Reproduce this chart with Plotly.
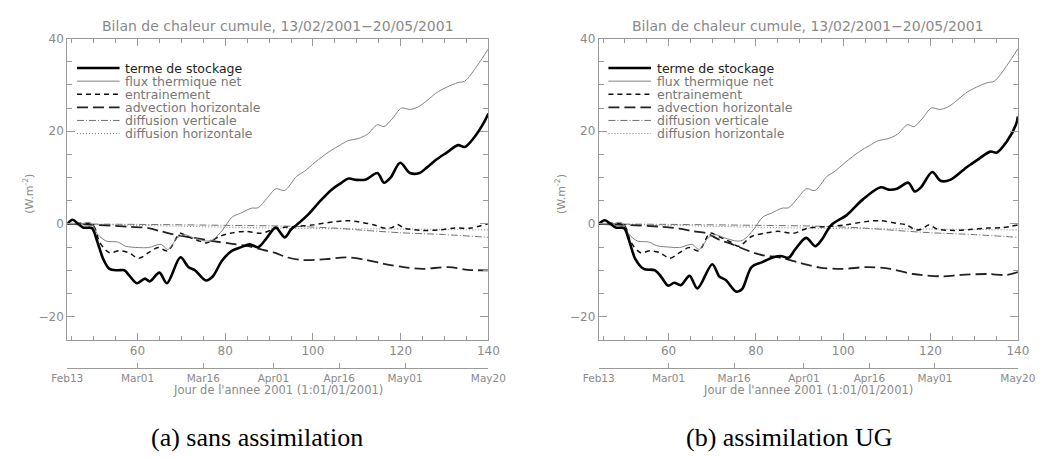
import plotly.graph_objects as go

# ---------------- data ----------------
# Panel (a) sans assimilation
stock_a_day = [44, 45.2, 46.5, 47.7, 49.6, 50.7, 52.2, 53.6, 55.5, 57, 58.1, 59.9, 61.7, 62.8, 65, 66.7,
               69.8, 71.6, 73.1, 75.6, 77.1, 79.3, 81.5, 83.7, 85.6, 87.5, 89.5, 91.5, 93.6, 95, 96.3, 98.9,
               101.8, 104.4, 106.4, 108.1, 109.9, 112.1, 114.7, 116.2, 117.7, 119.9, 122.1, 124.3, 126,
               128, 130.5, 133.1, 134.6, 136.8, 139, 140]
stock_a = [0, 0.9, 0, -0.8, -0.9, -3.4, -7.6, -9.7, -10.0, -10.0, -11.1, -12.8, -11.8, -12.4, -10.5, -12.8,
           -7.2, -9.3, -10.0, -12.2, -11.4, -7.9, -5.8, -5.0, -4.4, -5.0, -3.0, -0.8, -2.9, -1.2, -0.2, 2.0,
           5.1, 7.5, 8.8, 9.8, 9.5, 9.6, 11.0, 8.9, 10.0, 13.2, 11.0, 11.0, 12.2,
           13.8, 15.4, 17.0, 16.6, 18.7, 21.9, 23.8]

flux_a_day = [44, 47, 49.2, 51, 52.9, 55.5, 57.3, 60.3, 62.5, 65.4, 66.9, 69.1, 70.6, 72.8, 75.7, 77.2,
              79.4, 81.6, 83.5, 86, 87.5, 89.5, 91.6, 93.5, 96.3, 98, 100.5, 103.7, 106, 108.1, 110.3,
              112.5, 114.7, 116.2, 118, 120.2, 122.1, 123.9, 126, 128, 130.5, 133.1, 134.6, 137.5, 140]
flux_a = [0, 0, 0.3, -2.3, -3.7, -3.9, -4.8, -5.1, -5.1, -4.4, -5.5, -3.0, -2.3, -3.0, -3.7, -3.4,
          -1.3, 1.5, 2.3, 3.4, 3.5, 5.5, 7.6, 7.2, 10.3, 11.3, 13.3, 15.6, 16.9, 18.0, 18.4,
          19.4, 21.4, 21.0, 22.6, 25.0, 24.7, 25.2, 26.6, 28.2, 29.5, 30.5, 30.8, 34.2, 37.8]

entr_a_day = [44, 49.8, 51.4, 53.6, 55.8, 58, 60.3, 62.5, 64.7, 66.9, 69.8, 71.3, 74.2, 75.7, 78.7, 81.2,
              84.5, 88.2, 91.9, 95.6, 100, 105.1, 108.1, 112.5, 114.2, 116.2, 118, 119.3, 120.8, 125,
              128.7, 132.4, 136, 140]
entr_a = [0, -0.3, -4.0, -6.2, -5.8, -6.2, -7.4, -6.2, -5.1, -5.8, -2.0, -2.7, -3.7, -4.1, -2.7, -2.0,
          -1.6, -2.0, -0.9, -0.6, -0.2, 0.5, 0.7, 0.1, -0.3, -0.9, -0.8, -0.1, -0.9, -1.4,
          -1.3, -0.9, -0.9, 0.1]

adv_a_day = [44, 50, 58, 62.5, 65.4, 68.3, 72.8, 77.2, 81.6, 85.3, 88.2, 91.2, 94.1, 97.8, 103, 107.4,
             111.8, 116.2, 120.6, 125, 130.9, 135.3, 140]
adv_a = [0, -0.2, -0.6, -0.9, -1.6, -2.3, -3.0, -3.7, -4.3, -4.8, -5.5, -6.2, -7.2, -7.8, -7.6, -7.2,
         -7.7, -8.6, -9.3, -9.7, -9.3, -9.9, -10.0]

dvert_a_day = [44, 60, 80, 95, 105, 112, 120, 130, 140]
dvert_a = [0, -0.1, -0.3, -0.5, -0.9, -1.4, -1.9, -2.3, -2.9]

dhor_a_day = [44, 55, 70, 85, 100, 120, 140]
dhor_a = [0, -0.2, -0.5, -0.8, -1.0, -1.1, -1.3]

# Panel (b) assimilation UG
stock_b_day = [44, 45.4, 46.7, 48, 49.8, 50.9, 52.4, 54.3, 56.9, 58.3, 59.9, 61.3, 62.8, 64.8, 66.6,
               70, 71.6, 73.1, 75.5, 76.8, 79, 81.3, 84, 85.7, 87.5, 89, 91.5, 93.6, 95, 97.3, 100.8,
               104.5, 108.6, 110.4, 112.3, 114.9, 116.4, 117.8, 120.4, 122.3, 124.5, 128.5, 131,
               133.7, 135.2, 137.4, 139.6, 140]
stock_b = [0, 0.8, 0, -0.8, -0.9, -3.4, -7.6, -9.7, -10.0, -11.4, -13.3, -12.7, -13.2, -11.2, -13.9,
           -8.7, -11.3, -12.1, -14.6, -14.1, -9.3, -8.3, -7.2, -6.9, -7.3, -5.5, -3.0, -4.8, -3.5, -0.2, 1.9,
           5.3, 7.9, 7.4, 7.6, 8.9, 7.0, 7.9, 11.2, 9.3, 9.5, 12.4, 14.0,
           15.6, 15.4, 17.7, 21.5, 23.2]

flux_b_day = [44, 47, 49.2, 51, 52.9, 55.5, 57.3, 60.3, 62.5, 65.4, 66.9, 69.1, 70.6, 72.8, 75.7, 77.2,
              79.4, 81.6, 83.5, 86, 87.5, 89.5, 91.6, 93.5, 96.3, 98, 100.5, 103.7, 106, 108.1, 110.3,
              112.5, 114.7, 116.2, 118, 120.2, 122.1, 123.9, 126, 128, 130.5, 133.1, 134.6, 137.5, 140]
flux_b = [0, 0, 0.3, -2.3, -3.7, -3.9, -4.7, -5.0, -5.1, -4.4, -5.5, -3.0, -2.3, -3.0, -3.7, -3.4,
          -1.3, 1.5, 2.3, 3.4, 3.5, 5.5, 7.6, 7.2, 10.3, 11.3, 13.3, 15.6, 16.9, 18.0, 18.4,
          19.4, 21.4, 21.0, 22.6, 25.0, 24.7, 25.2, 26.6, 28.2, 29.5, 30.5, 30.8, 34.2, 37.8]

entr_b_day = [44, 49.8, 51.4, 53.6, 55.8, 58, 60.3, 62.5, 64.7, 66.9, 69.5, 71.0, 74.2, 76.1, 79, 82,
              85, 88.6, 91.9, 96, 100.4, 105.1, 108.6, 112.5, 114.5, 116.7, 118, 119.7, 121.5, 125.6,
              129, 133, 136.5, 140]
entr_b = [0, -0.3, -4.0, -6.2, -5.8, -6.2, -7.4, -6.2, -5.1, -5.8, -2.0, -2.5, -3.9, -4.8, -2.7, -2.0,
          -1.6, -2.0, -0.9, -0.6, -0.2, 0.5, 0.7, 0.1, -0.2, -1.3, -1.1, -0.2, -1.1, -1.4,
          -1.2, -0.9, -0.8, -0.2]

adv_b_day = [44, 50, 58.3, 62.5, 65.7, 68.7, 71.6, 74.6, 78.3, 81.3, 85.7, 90.1, 94.6, 99.7, 105.6,
             110.8, 116, 122.6, 127, 133, 137.4, 140]
adv_b = [0, -0.2, -0.6, -1.0, -1.6, -2.0, -3.4, -4.4, -5.8, -6.7, -7.3, -8.4, -9.4, -9.7, -9.3,
         -9.7, -10.8, -11.3, -11.0, -10.8, -11.0, -10.4]

dvert_b_day = [44, 60, 80, 95, 105, 112, 120, 130, 140]
dvert_b = [0, -0.1, -0.3, -0.5, -0.9, -1.4, -1.9, -2.3, -2.9]

dhor_b_day = [44, 55, 70, 85, 100, 120, 140]
dhor_b = [0, -0.2, -0.5, -0.8, -1.0, -1.1, -1.3]

series_names = ["terme de stockage", "flux thermique net", "entrainement",
                "advection horizontale", "diffusion verticale", "diffusion horizontale"]
date_ticks_day = [44, 60, 75, 91, 106, 121, 140]
date_ticks_text = ["Feb13", "Mar01", "Mar16", "Apr01", "Apr16", "May01", "May20"]
captions = ["(a) sans assimilation", "(b) assimilation UG"]
title_text = "Bilan de chaleur cumule, 13/02/2001\u221220/05/2001"
ytitle = "(W.m<sup>-2</sup>)"
xtitle = "Jour de l'annee 2001 (1:01/01/2001)"

# ---------------- styling ----------------
styles = [
    dict(color="#000000", width=2.6, dash="solid"),
    dict(color="#808080", width=1.0, dash="solid"),
    dict(color="#111111", width=1.5, dash="5px,4px"),
    dict(color="#222222", width=1.8, dash="11px,5px"),
    dict(color="#707070", width=1.0, dash="7px,2px,1px,2px"),
    dict(color="#808080", width=1.0, dash="1px,2px"),
]
label_colors = ["#222222", "#777777", "#777777", "#777777", "#777777", "#777777"]
GREY = "#9a9a9a"
TXT = "#8a8a8a"
FONT = "DejaVu Sans"

W, H = 1062, 458
panels = [
    dict(xd=(53, 488), xa="x", ya="y", xa_date="x3",
         data=[(stock_a_day, stock_a), (flux_a_day, flux_a), (entr_a_day, entr_a),
               (adv_a_day, adv_a), (dvert_a_day, dvert_a), (dhor_a_day, dhor_a)],
         ytitle_x=13, caption_x=249),
    dict(xd=(602, 1035), xa="x2", ya="y2", xa_date="x4",
         data=[(stock_b_day, stock_b), (flux_b_day, flux_b), (entr_b_day, entr_b),
               (adv_b_day, adv_b), (dvert_b_day, dvert_b), (dhor_b_day, dhor_b)],
         ytitle_x=562, caption_x=799),
]
y_top, y_bot = 32, 338
date_axis_y = 366.7

fig = go.Figure()
shapes, annotations = [], []

for pi, p in enumerate(panels):
    order = [5, 4, 3, 2, 1, 0]  # storage drawn last (on top)
    for i in order:
        d, v = p["data"][i]
        st = styles[i]
        fig.add_trace(go.Scatter(
            x=d, y=v, mode="lines", name=series_names[i], showlegend=False,
            line=dict(color=st["color"], width=st["width"], dash=st["dash"],
                      shape="spline", smoothing=0.9),
            xaxis=p["xa"], yaxis=p["ya"], hoverinfo="skip"))
    # anchor trace for the date axis
    fig.add_trace(go.Scatter(x=[date_ticks_day[0], date_ticks_day[-1]], y=[None, None],
                             mode="lines", showlegend=False, hoverinfo="skip",
                             xaxis=p["xa_date"], yaxis=p["ya"]))

    xdom = p["xa"] + " domain"
    ydom = p["ya"] + " domain"
    ph = y_bot - y_top
    pw = p["xd"][1] - p["xd"][0]
    for k, name in enumerate(series_names):
        yy = 62 + k * 13.3
        yf = (y_bot - yy) / ph
        st = styles[k]
        shapes.append(dict(type="line", xref=xdom, yref=ydom,
                           x0=10 / pw, x1=54 / pw, y0=yf, y1=yf,
                           line=dict(color=st["color"], width=st["width"], dash=st["dash"])))
        annotations.append(dict(xref=xdom, yref=ydom, x=58 / pw, y=yf, text=name,
                                showarrow=False, xanchor="left", yanchor="middle",
                                font=dict(family=FONT, size=12.5, color=label_colors[k])))
    annotations.append(dict(xref=xdom, yref="paper", x=0.5, y=1 - 19 / H, text=title_text,
                            showarrow=False, xanchor="center", yanchor="middle",
                            font=dict(family=FONT, size=14, color=TXT)))
    annotations.append(dict(xref=xdom, yref="paper", x=0.5, y=1 - 389 / H, text=xtitle,
                            showarrow=False, xanchor="center", yanchor="middle",
                            font=dict(family=FONT, size=11.5, color=TXT)))
    annotations.append(dict(xref="paper", yref="paper", x=p["ytitle_x"] / W, y=1 - 190 / H,
                            text=ytitle, textangle=-90, showarrow=False,
                            xanchor="center", yanchor="middle",
                            font=dict(family=FONT, size=11, color=TXT)))
    annotations.append(dict(xref="paper", yref="paper", x=p["caption_x"] / W, y=1 - 437 / H,
                            text=captions[pi], showarrow=False,
                            xanchor="center", yanchor="middle",
                            font=dict(family="Liberation Serif", size=26, color="#000000")))


def main_x(dom, anchor):
    return dict(domain=[dom[0] / W, dom[1] / W], anchor=anchor, range=[44, 140],
                tickmode="linear", tick0=0, dtick=20, ticks="inside", ticklen=7,
                tickcolor=GREY, tickwidth=1, showline=True, linecolor=GREY, linewidth=1,
                mirror="ticks", showgrid=False, zeroline=False,
                minor=dict(dtick=5, tick0=0, ticks="inside", ticklen=4, tickcolor=GREY,
                           showgrid=False),
                tickfont=dict(family=FONT, size=12, color=TXT))


def main_y(anchor):
    return dict(domain=[1 - y_bot / H, 1 - y_top / H], anchor=anchor, range=[-25, 40],
                tickmode="linear", tick0=0, dtick=20, ticks="inside", ticklen=8,
                tickcolor=GREY, tickwidth=1, showline=True, linecolor=GREY, linewidth=1,
                mirror="ticks", showgrid=False, zeroline=False,
                minor=dict(dtick=5, tick0=0, ticks="inside", ticklen=5, tickcolor=GREY,
                           showgrid=False),
                tickfont=dict(family=FONT, size=12, color=TXT))


def date_x(over):
    return dict(overlaying=over, anchor="free", position=1 - date_axis_y / H, side="bottom",
                range=[44, 140], tickmode="array", tickvals=date_ticks_day,
                ticktext=date_ticks_text, ticks="inside", ticklen=5, tickcolor=GREY,
                showline=True, linecolor=GREY, linewidth=1, showgrid=False, zeroline=False,
                tickfont=dict(family=FONT, size=10.5, color=TXT))


fig.update_layout(
    width=W, height=H, margin=dict(l=0, r=0, t=0, b=0),
    paper_bgcolor="white", plot_bgcolor="white", showlegend=False,
    xaxis=main_x(panels[0]["xd"], "y"), yaxis=main_y("x"),
    xaxis2=main_x(panels[1]["xd"], "y2"), yaxis2=main_y("x2"),
    xaxis3=date_x("x"), xaxis4=date_x("x2"),
    shapes=shapes, annotations=annotations,
)

fig.write_html("out.html", config={"displayModeBar": False},
               post_script="document.body.style.margin='0';")
